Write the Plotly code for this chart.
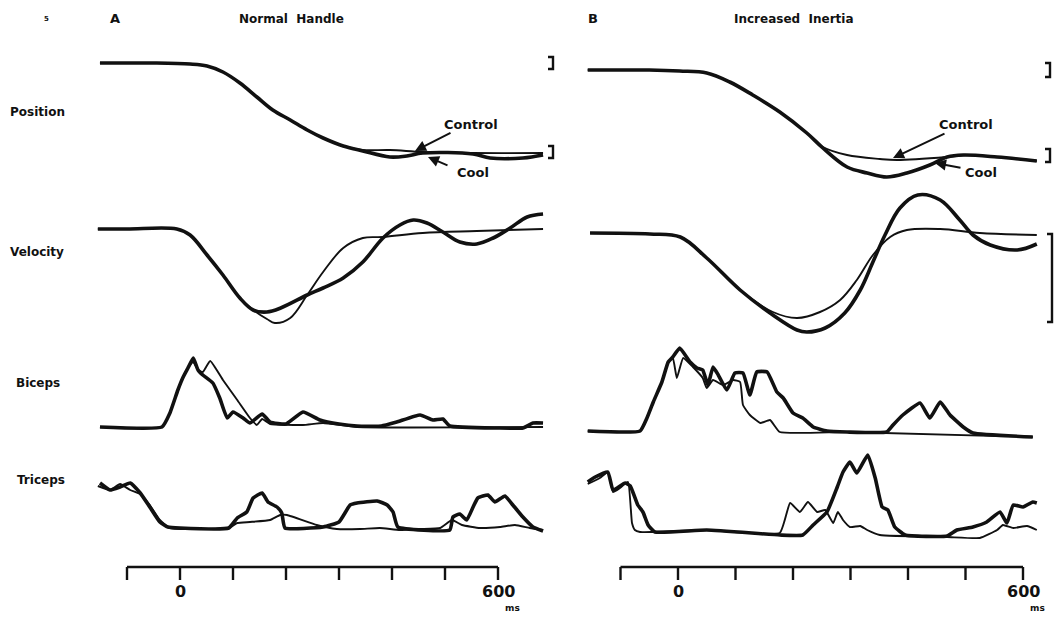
import plotly.graph_objects as go

W, H = 1059, 624

# ---------------- data: time in ms, signals in arbitrary units (0 = resting level) ----------------
# Panel A - normal handle
A_POS_CONTROL_T = [-151, -100, -50, 19, 51, 81, 113, 145, 175, 208, 240, 270, 308, 345, 396, 458, 553, 685]
A_POS_CONTROL = [0, 0, 0, -1, -3, -9, -20, -34, -47, -57, -67, -75, -83, -87, -87, -89, -90, -90]
A_POS_COOL_T = [-151, -100, -50, 19, 51, 81, 113, 145, 175, 208, 240, 270, 308, 345, 396, 428, 458, 553, 585, 647, 685]
A_POS_COOL = [0, 0, 0, -1, -3, -9, -20, -34, -47, -57, -67, -75, -83, -88, -94, -93, -90, -91, -95, -95, -92]

A_VEL_CONTROL_T = [-155, -100, -6, 19, 51, 81, 113, 138, 164, 179, 208, 240, 270, 308, 345, 383, 458, 560, 685]
A_VEL_CONTROL = [0, 0, 0, -6, -26, -46, -69, -81, -90, -94, -89, -66, -43, -19, -9, -8, -4, -2, 0]
A_VEL_COOL_T = [-155, -100, -6, 19, 51, 81, 113, 138, 164, 190, 240, 270, 308, 345, 383, 415, 440, 466, 496, 528, 560, 591, 623, 655, 685]
A_VEL_COOL = [0, 0, 0, -6, -26, -46, -69, -81, -83, -79, -66, -59, -49, -33, -9, 4, 9, 6, -3, -13, -15, -9, 1, 12, 15]

A_BIC_CONTROL_T = [-151, -34, -19, -4, 6, 15, 25, 34, 43, 57, 81, 108, 132, 145, 155, 170, 232, 270, 334, 685]
A_BIC_CONTROL = [0, 0, 14, 37, 50, 59, 65, 57, 55, 66, 47, 27, 9, 2, 8, 3, 2, 4, 0, 0]
A_BIC_COOL_T = [-151, -34, -19, -4, 6, 15, 25, 34, 43, 62, 75, 89, 100, 119, 132, 155, 170, 200, 232, 264,
                300, 334, 380, 409, 453, 477, 496, 509, 600, 647, 666, 685]
A_BIC_COOL = [0, 0, 14, 37, 50, 59, 69, 57, 52, 44, 29, 9, 15, 9, 4, 13, 5, 3, 15, 7,
              3, 1, 1, 5, 12, 7, 8, 1, -1, -1, 4, 4]

A_TRI_CONTROL_T = [-155, -132, -113, -94, -75, -57, -38, -19, 92, 108, 132, 170, 189, 202, 258, 296, 340, 377, 415, 453,
                   491, 513, 532, 566, 604, 632, 660, 685]
A_TRI_CONTROL = [42, 38, 44, 38, 34, 23, 8, 0, 0, 5, 6, 8, 13, 13, 3, -1, -1, 0, -2, -1,
                 0, 8, 3, 0, 1, 3, 0, -2]
A_TRI_COOL_T = [-151, -132, -113, -94, -75, -57, -38, -23, 0, 92, 108, 126, 138, 155, 166, 183, 192, 198, 270, 300,
                321, 334, 372, 391, 402, 411, 509, 515, 528, 541, 553, 562, 581, 594, 613, 628, 647, 666, 685]
A_TRI_COOL = [45, 38, 41, 45, 35, 21, 6, 1, 0, 0, 10, 16, 30, 35, 26, 21, 15, 0, 1, 6,
              23, 25, 27, 23, 16, 1, -2, 11, 14, 8, 21, 30, 33, 26, 32, 23, 11, 1, -3]

# Panel B - increased inertia
B_POS_CONTROL_T = [-157, -100, -50, 3, 50, 90, 130, 177, 224, 252, 294, 351, 381, 468, 503, 555, 624]
B_POS_CONTROL = [0, 0, 0, -1, -3, -12, -25, -42, -63, -77, -85, -89, -90, -87, -85, -87, -91]
B_POS_COOL_T = [-157, -100, -50, 3, 50, 90, 130, 177, 224, 252, 294, 329, 363, 398, 438, 468, 496, 555, 624]
B_POS_COOL = [0, 0, 0, -1, -3, -12, -25, -42, -63, -78, -97, -103, -107, -103, -95, -87, -85, -87, -91]

B_VEL_CONTROL_T = [-153, -49, 4, 50, 108, 165, 207, 247, 282, 311, 339, 369, 398, 456, 525, 624]
B_VEL_CONTROL = [0, -1, -4, -25, -57, -79, -85, -79, -67, -47, -22, -4, 3, 4, 0, -2]
B_VEL_COOL_T = [-153, -49, 4, 50, 108, 165, 207, 224, 256, 290, 317, 339, 360, 386, 417, 456, 490, 513, 543, 590, 624]
B_VEL_COOL = [0, -1, -4, -25, -57, -82, -97, -99, -95, -80, -57, -29, -2, 25, 38, 33, 13, -2, -12, -17, -11]

B_BIC_CONTROL_T = [-157, -66, -54, -43, -28, -17, -9, -2, 9, 26, 43, 50, 61, 78, 96, 108, 113, 125, 143, 160, 177, 294, 617]
B_BIC_CONTROL = [1, 1, 14, 30, 50, 70, 74, 54, 74, 65, 54, 44, 52, 47, 52, 50, 27, 17, 9, 12, 0, 0, -5]
B_BIC_COOL_T = [-157, -66, -54, -43, -28, -17, -9, 3, 21, 33, 43, 52, 61, 70, 85, 99, 113, 125, 137, 155,
                172, 183, 200, 217, 235, 259, 294, 363, 374, 391, 421, 438, 456, 473, 496, 513, 617]
B_BIC_COOL = [1, 1, 14, 30, 50, 70, 75, 84, 70, 64, 62, 47, 65, 57, 42, 59, 59, 37, 60, 60,
              40, 34, 19, 14, 5, 1, 0, 0, 7, 17, 29, 14, 30, 17, 5, -1, -5]

B_TRI_CONTROL_T = [-157, -136, -122, -113, -101, -87, -80, -75, -66, 50, 177, 195, 212, 226, 242, 256, 270, 278, 287,
                   299, 317, 329, 351, 468, 525, 555, 565, 583, 607, 624]
B_TRI_CONTROL = [48, 54, 60, 40, 44, 50, 9, 2, 0, 2, -1, 29, 20, 30, 20, 22, 9, 20, 12,
                 5, 6, 2, -3, -5, -6, 2, 7, 4, 6, 2]
B_TRI_COOL_T = [-157, -144, -122, -113, -92, -83, -70, -61, -52, -40, 50, 177, 217, 235, 259, 277, 287, 299, 311, 330,
                343, 355, 365, 377, 395, 468, 485, 513, 537, 560, 572, 583, 600, 617, 624]
B_TRI_COOL = [50, 55, 60, 42, 49, 46, 27, 20, 7, 0, 2, -3, -3, 7, 20, 45, 60, 70, 59, 77,
              54, 25, 22, 5, -3, -4, 2, 5, 10, 20, 9, 27, 25, 30, 29]

ROW_NAMES = ["Position", "Velocity", "Biceps", "Triceps"]
PANEL_TITLES = {"A": "Normal  Handle", "B": "Increased  Inertia"}
TIME_TICKS = [-100, 0, 100, 200, 300, 400, 500, 600]
TICK_LABELS = {0: "0", 600: "600"}

# ---------------- layout geometry (pixels in the 1059x624 page) ----------------
def px_x(x):
    return x / W


def px_y(y):
    return 1 - y / H


PANELS = {
    "A": dict(x="x", zero_px=180, px_per_ms=0.53, span=(90, 560),
              rows=[(63, 45, 190), (229, 195, 340), (427, 340, 440), (528, 450, 545)],
              traces=[(A_POS_CONTROL_T, A_POS_CONTROL, A_POS_COOL_T, A_POS_COOL, 1.0),
                      (A_VEL_CONTROL_T, A_VEL_CONTROL, A_VEL_COOL_T, A_VEL_COOL, 1.0),
                      (A_BIC_CONTROL_T, A_BIC_CONTROL, A_BIC_COOL_T, A_BIC_COOL, 0.4),
                      (A_TRI_CONTROL_T, A_TRI_CONTROL, A_TRI_COOL_T, A_TRI_COOL, 0.4)]),
    "B": dict(x="x2", zero_px=678, px_per_ms=0.575, span=(580, 1050),
              rows=[(70, 55, 190), (233, 185, 345), (432, 335, 445), (532, 445, 545)],
              traces=[(B_POS_CONTROL_T, B_POS_CONTROL, B_POS_COOL_T, B_POS_COOL, 1.0),
                      (B_VEL_CONTROL_T, B_VEL_CONTROL, B_VEL_COOL_T, B_VEL_COOL, 1.0),
                      (B_BIC_CONTROL_T, B_BIC_CONTROL, B_BIC_COOL_T, B_BIC_COOL, 0.4),
                      (B_TRI_CONTROL_T, B_TRI_CONTROL, B_TRI_COOL_T, B_TRI_COOL, 0.4)]),
}

INK = "#111111"
FONT = "DejaVu Sans"

fig = go.Figure()
layout = dict(width=W, height=H, margin=dict(l=0, r=0, t=0, b=0),
              paper_bgcolor="white", plot_bgcolor="rgba(0,0,0,0)", showlegend=False)
shapes = []
annotations = []

axis_index = 0
for key, p in PANELS.items():
    x0, x1 = p["span"]
    xr = [(x0 - p["zero_px"]) / p["px_per_ms"], (x1 - p["zero_px"]) / p["px_per_ms"]]
    xname = "xaxis" if p["x"] == "x" else "xaxis2"
    layout[xname] = dict(domain=[px_x(x0), px_x(x1)], range=xr, visible=False, fixedrange=True)

    for (base, top, bot), (tc, vc, tk, vk, smooth) in zip(p["rows"], p["traces"]):
        axis_index += 1
        yref = "y" if axis_index == 1 else f"y{axis_index}"
        yname = "yaxis" if axis_index == 1 else f"yaxis{axis_index}"
        layout[yname] = dict(domain=[px_y(bot), px_y(top)], range=[base - bot, base - top],
                             visible=False, fixedrange=True, anchor=p["x"])
        fig.add_trace(go.Scatter(x=tc, y=vc, xaxis=p["x"], yaxis=yref, mode="lines", name="Control",
                                 line=dict(color=INK, width=1.9, shape="spline", smoothing=smooth),
                                 hoverinfo="skip", cliponaxis=False))
        fig.add_trace(go.Scatter(x=tk, y=vk, xaxis=p["x"], yaxis=yref, mode="lines", name="Cool",
                                 line=dict(color=INK, width=3.6, shape="spline", smoothing=smooth),
                                 hoverinfo="skip", cliponaxis=False))

    # time scale bar
    bar_y, tick_y = 567, 580
    shapes.append(dict(type="line", xref=p["x"], yref="paper", x0=TIME_TICKS[0], x1=TIME_TICKS[-1],
                       y0=px_y(bar_y), y1=px_y(bar_y), line=dict(color=INK, width=2.6)))
    for t in TIME_TICKS:
        shapes.append(dict(type="line", xref=p["x"], yref="paper", x0=t, x1=t,
                           y0=px_y(bar_y), y1=px_y(tick_y), line=dict(color=INK, width=2.4)))
    for t, lab in TICK_LABELS.items():
        annotations.append(dict(x=t, y=px_y(591), xref=p["x"], yref="paper", text=lab, showarrow=False,
                                font=dict(family=FONT, size=16, color=INK, weight="bold"),
                                xanchor="center", yanchor="middle"))
    annotations.append(dict(x=TIME_TICKS[-1] + 14 / p["px_per_ms"], y=px_y(608), xref=p["x"], yref="paper",
                            text="ms", showarrow=False,
                            font=dict(family=FONT, size=9, color=INK, weight="bold"),
                            xanchor="center", yanchor="middle"))

# panel letters and titles
for txt, (x, y), size in [("A", (115, 18), 13), ("B", (593, 18), 13),
                          (PANEL_TITLES["A"], (291, 19), 12), (PANEL_TITLES["B"], (794, 19), 12)]:
    annotations.append(dict(x=px_x(x), y=px_y(y), xref="paper", yref="paper", text=txt, showarrow=False,
                            font=dict(family=FONT, size=size, color=INK, weight="bold"),
                            xanchor="center", yanchor="middle"))
annotations.append(dict(x=px_x(42), y=px_y(13), xref="paper", yref="paper", text="5", showarrow=False,
                        font=dict(family=FONT, size=7, color=INK, weight="bold")))

# row labels
for name, (x, y) in zip(ROW_NAMES, [(8, 112), (8, 252), (14, 383), (15, 480)]):
    annotations.append(dict(x=px_x(x), y=px_y(y), xref="paper", yref="paper", text=name, showarrow=False,
                            font=dict(family=FONT, size=12, color=INK, weight="bold"),
                            xanchor="left", yanchor="middle"))

# trace labels with pointer arrows: (text, text centre, arrow tail, arrow tip)
POINTERS = [("Control", (471, 125), (452, 132), (415, 151)),
            ("Cool", (473, 172), (449, 166), (428, 157)),
            ("Control", (966, 125), (946, 133), (893, 158)),
            ("Cool", (981, 172), (962, 168), (935, 163))]
for txt, (tx, ty), (ax, ay), (hx, hy) in POINTERS:
    annotations.append(dict(x=px_x(tx), y=px_y(ty), xref="paper", yref="paper", text=txt, showarrow=False,
                            font=dict(family=FONT, size=13, color=INK, weight="bold"),
                            xanchor="center", yanchor="middle"))
    annotations.append(dict(x=px_x(hx), y=px_y(hy), xref="paper", yref="paper", text="", showarrow=True,
                            ax=ax - hx, ay=ay - hy, axref="pixel", ayref="pixel",
                            arrowhead=2, arrowsize=1.1, arrowwidth=2, arrowcolor=INK))

# calibration brackets
BRACKETS = [(553, 57, 69), (553, 146, 158), (1050, 63, 77), (1050, 149, 162), (1052, 234, 322)]
for bx, by0, by1 in BRACKETS:
    path = (f"M {px_x(bx - 5)},{px_y(by0)} L {px_x(bx)},{px_y(by0)} "
            f"L {px_x(bx)},{px_y(by1)} L {px_x(bx - 5)},{px_y(by1)}")
    shapes.append(dict(type="path", xref="paper", yref="paper", path=path,
                       line=dict(color=INK, width=2.4)))

layout["shapes"] = shapes
layout["annotations"] = annotations
fig.update_layout(**layout)

fig.write_html("out.html")
